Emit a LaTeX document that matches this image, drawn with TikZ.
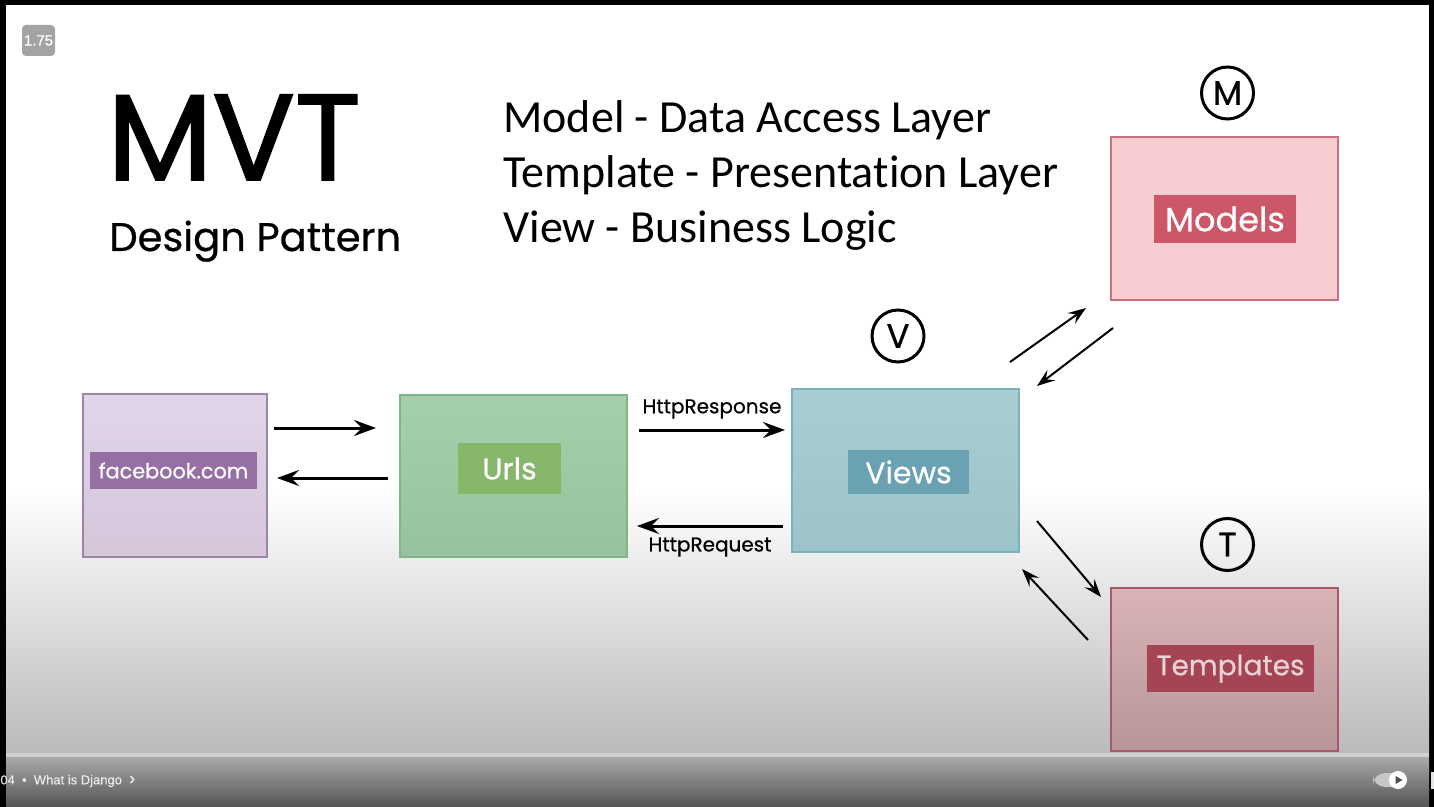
\documentclass[tikz,border=0pt]{standalone}
\usepackage{fontspec}
\setmainfont{Poppins}
\newfontfamily\popm{Poppins}[FakeBold=0.6]
\newfontfamily\popb{Poppins}[FakeBold=1.6]
\newfontfamily\listfont{Carlito}[Ligatures={NoCommon}]
\newfontfamily\uifont{Liberation Sans}[FakeBold=0.3]
\usetikzlibrary{arrows.meta,calc}
\definecolor{fbfill}{HTML}{E2D4EA}
\definecolor{fbfillb}{HTML}{D5C6DA}
\definecolor{fbedge}{HTML}{9A84A8}
\definecolor{fblab}{HTML}{9670A5}
\definecolor{urfill}{HTML}{A3D0AA}
\definecolor{urfillb}{HTML}{97C29E}
\definecolor{uredge}{HTML}{80B585}
\definecolor{urlab}{HTML}{85B66A}
\definecolor{vwfill}{HTML}{A6CED3}
\definecolor{vwfillb}{HTML}{9CC3C8}
\definecolor{vwedge}{HTML}{7CB1BC}
\definecolor{vwlab}{HTML}{6AA1B3}
\definecolor{mdfill}{HTML}{F8CDD1}
\definecolor{mdedge}{HTML}{C8707E}
\definecolor{mdlab}{HTML}{CB5769}
\definecolor{tpfill}{HTML}{DAB4B7}
\definecolor{tpfillb}{HTML}{B69698}
\definecolor{tpedge}{HTML}{A85868}
\definecolor{tplab}{HTML}{A54452}
\definecolor{tptext}{HTML}{EAD3D5}
\begin{document}
\begin{tikzpicture}[x=0.5pt,y=-0.5pt,
  box/.style={draw, line width=1pt, minimum width=113.5pt, minimum height=81.5pt, inner sep=0pt},
  lab/.style={inner sep=0pt, text=white, font=\popm\fontsize{15}{18}\selectfont},
  letter/.style={circle, draw, line width=1.5pt, minimum size=26pt, inner sep=0pt, font=\popm\fontsize{17}{18}\selectfont},
  harr/.style={line width=1.5pt, -{Stealth[length=11pt,width=8pt,inset=4pt]}},
  darr/.style={line width=1pt, -{Stealth[length=9pt,width=6.5pt,inset=3.5pt]}},
  headtxt/.style={anchor=base west, inner sep=0pt},
  httptxt/.style={inner sep=0pt, font=\popm\fontsize{10}{12}\selectfont}]
% frame and background
\fill[black] (0,0) rectangle (1434,807);
\fill[white] (6,5) rectangle (1429,490);
\shade[top color=white, bottom color=black!27] (6,490) rectangle (1429,754);
\shade[top color=black!33, bottom color=black!67] (6,756) rectangle (1429,807);
\fill[black!18] (6,753) rectangle (1429,757);
\fill[white!90!black] (1431,772) rectangle (1434,789);
% badge
\node[fill=black!36, rounded corners=2pt, minimum width=16.5pt, minimum height=15.5pt, inner sep=0pt, text=white, font=\uifont\fontsize{7.5}{8}\selectfont] (badge) at (38.5,40.5) {1.75};
% player bar
\node[anchor=west, inner sep=0pt, text=white!92!black, font=\uifont\fontsize{6.5}{7}\selectfont] (chap) at (0,781) {04~~•~~What is Django~~\fontsize{9}{9}\selectfont ›};
\node[fill=black!22, rounded corners=6pt, minimum width=16pt, minimum height=7pt, inner sep=0pt] (toggle) at (1389,780) {};
\node[circle, fill=white, minimum size=9pt, inner sep=0pt] (knob) at (1398,780) {};
\fill[black!70] ($(knob.center)+(-2.5,-4)$) -- ($(knob.center)+(4.5,0)$) -- ($(knob.center)+(-2.5,4)$) -- cycle;
% headings
\node[headtxt, font=\popb\fontsize{61}{61}\selectfont] (mvt) at (107,180) {MVT};
\node[headtxt, font=\popm\fontsize{20}{22}\selectfont] (dp) at (109,251) {Design Pattern};
\node[headtxt, font=\listfont\fontsize{23}{26}\selectfont] (l1) at (503,133) {Model - Data Access Layer};
\node[headtxt, font=\listfont\fontsize{23}{26}\selectfont] (l2) at (503,188) {Template - Presentation Layer};
\node[headtxt, font=\listfont\fontsize{23}{26}\selectfont] (l3) at (503,243) {View - Business Logic};
% boxes
\node[box, draw=fbedge, top color=fbfill, bottom color=fbfillb, minimum width=92pt] (fb) at (175,475.5) {};
\node[box, draw=uredge, top color=urfill, bottom color=urfillb, minimum height=81pt] (urls) at (513.5,476) {};
\node[box, draw=vwedge, top color=vwfill, bottom color=vwfillb] (views) at (905.5,470.5) {};
\node[box, draw=mdedge, fill=mdfill] (models) at (1224.5,218.5) {};
\node[box, draw=tpedge, top color=tpfill, bottom color=tpfillb] (templates) at (1224.5,669.5) {};
% labels
\node[lab, fill=fblab, minimum width=83.5pt, minimum height=18.5pt, font=\popm\fontsize{10.4}{13}\selectfont] (fbl) at (173.5,470.5) {facebook.com};
\node[lab, fill=urlab, minimum width=51.5pt, minimum height=25.5pt] (urll) at (509.5,468.5) {Urls};
\node[lab, fill=vwlab, minimum width=60.5pt, minimum height=22pt] (vwl) at (908.5,472) {Views};
\node[lab, fill=mdlab, minimum width=71pt, minimum height=24pt, font=\popm\fontsize{16.8}{19}\selectfont] (mdl) at (1225,219) {Models};
\node[lab, fill=tplab, text=tptext, minimum width=83.5pt, minimum height=23.5pt, font=\popm\fontsize{14}{17}\selectfont] (tpl) at (1230.5,668.5) {Templates};
% letters
\node[letter] (cM) at (1227.5,93) {M};
\node[letter] (cV) at (898,336) {V};
\node[letter] (cT) at (1227.5,544.5) {T};
% arrows
\draw[harr] ($(fb.center)+(99,-47.5)$) -- ($(urls.center)+(-137.5,-48)$);
\draw[harr] ($(urls.center)+(-125.5,2)$) -- ($(fb.center)+(102,2.5)$);
\draw[harr] ($(urls.center)+(125.5,-46)$) -- node[httptxt, above=5pt] (resp) {HttpResponse} ($(views.center)+(-120.5,-40.5)$);
\draw[harr] ($(views.center)+(-122.5,55.5)$) -- node[httptxt, below=5pt] (req) {HttpRequest} ($(urls.center)+(123.5,50)$);
\draw[darr] ($(views.center)+(104.5,-108.5)$) -- ($(models.center)+(-138.5,89.5)$);
\draw[darr] ($(models.center)+(-111.5,109.5)$) -- ($(views.center)+(131.5,-84.5)$);
\draw[darr] ($(views.center)+(131.5,50.5)$) -- ($(templates.center)+(-123.5,-72.5)$);
\draw[darr] ($(templates.center)+(-136.5,-29.5)$) -- ($(views.center)+(116.5,98.5)$);
\end{tikzpicture}
\end{document}
